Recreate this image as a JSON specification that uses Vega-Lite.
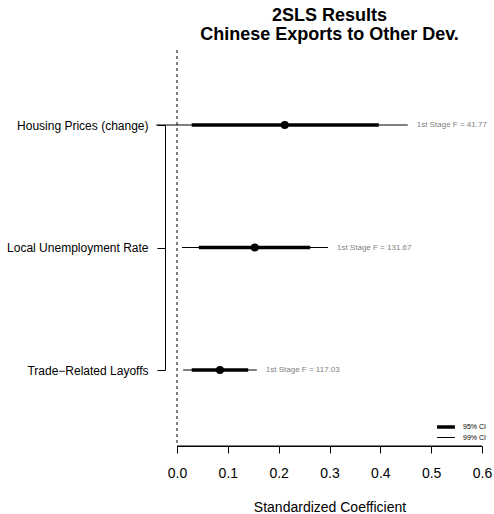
{
  "$schema": "https://vega.github.io/schema/vega-lite/v6.json",
  "width": 329,
  "height": 396,
  "autosize": "none",
  "padding": {"left": 165, "top": 50, "right": 0, "bottom": 68},
  "background": "white",
  "config": {"font": "Liberation Sans", "view": {"stroke": null}},
  "title": {
    "text": ["2SLS Results", "Chinese Exports to Other Dev."],
    "fontSize": 18,
    "fontWeight": "bold",
    "color": "black",
    "lineHeight": 19,
    "offset": 6,
    "anchor": "middle"
  },
  "datasets": {
    "ci": [
      {"name": "Housing Prices (change)", "ci": "99% CI", "lo": -0.041, "hi": 0.454},
      {"name": "Local Unemployment Rate", "ci": "99% CI", "lo": 0.010, "hi": 0.297},
      {"name": "Trade−Related Layoffs", "ci": "99% CI", "lo": 0.012, "hi": 0.157},
      {"name": "Housing Prices (change)", "ci": "95% CI", "lo": 0.029, "hi": 0.397},
      {"name": "Local Unemployment Rate", "ci": "95% CI", "lo": 0.043, "hi": 0.262},
      {"name": "Trade−Related Layoffs", "ci": "95% CI", "lo": 0.029, "hi": 0.140}
    ],
    "est": [
      {"name": "Housing Prices (change)", "coef": 0.212, "hi99": 0.454, "label": "1st Stage F = 41.77"},
      {"name": "Local Unemployment Rate", "coef": 0.153, "hi99": 0.297, "label": "1st Stage F = 131.67"},
      {"name": "Trade−Related Layoffs", "coef": 0.0845, "hi99": 0.157, "label": "1st Stage F = 117.03"}
    ],
    "one": [{}],
    "axisline": [{"v": 0}, {"v": 0.6}]
  },
  "layer": [
    {
      "data": {"name": "one"},
      "mark": {"type": "rule", "strokeDash": [3, 3], "color": "black", "strokeWidth": 1},
      "encoding": {
        "x": {
          "datum": 0,
          "type": "quantitative",
          "scale": {"domain": [0, 0.6], "range": [12, 317], "nice": false, "zero": false},
          "axis": {
            "values": [0, 0.1, 0.2, 0.3, 0.4, 0.5, 0.6],
            "format": ".1f",
            "domain": true,
            "domainColor": "black",
            "domainWidth": 1,
            "zindex": 1,
            "grid": false,
            "tickSize": 7,
            "tickColor": "black",
            "labelFlush": false,
            "labelFontSize": 14,
            "labelColor": "black",
            "labelPadding": 13,
            "title": "Standardized Coefficient",
            "titleFontSize": 14,
            "titleFontWeight": "normal",
            "titleColor": "black",
            "titlePadding": 20
          }
        }
      }
    },
    {
      "data": {"name": "axisline"},
      "mark": {"type": "line", "color": "black", "strokeWidth": 1, "clip": false},
      "encoding": {
        "x": {"field": "v", "type": "quantitative"},
        "y": {"value": "height"}
      }
    },
    {
      "data": {"name": "ci"},
      "mark": {"type": "rule", "color": "black"},
      "encoding": {
        "x": {"field": "lo", "type": "quantitative"},
        "x2": {"field": "hi"},
        "y": {
          "field": "name",
          "type": "nominal",
          "scale": {"type": "point", "padding": 0, "range": [75, 320], "domain": ["Housing Prices (change)", "Local Unemployment Rate", "Trade−Related Layoffs"]},
          "axis": {
            "title": null,
            "domain": true,
            "domainColor": "black",
            "domainWidth": 1,
            "ticks": true,
            "tickSize": 8,
            "tickColor": "black",
            "labelPadding": 9,
            "labelFontSize": 12,
            "labelColor": "black",
            "grid": false
          }
        },
        "strokeWidth": {
          "field": "ci",
          "type": "nominal",
          "scale": {"domain": ["95% CI", "99% CI"], "range": [3.5, 1]},
          "legend": {
            "title": null,
            "orient": "none",
            "legendX": 277,
            "legendY": 373,
            "symbolType": "M-4,0H4",
            "symbolSize": 20,
            "symbolStrokeColor": "black",
            "labelFontSize": 7,
            "labelColor": "black",
            "rowPadding": -2,
            "labelOffset": 13,
            "padding": 0
          }
        }
      }
    },
    {
      "data": {"name": "est"},
      "mark": {"type": "circle", "color": "black", "opacity": 1, "size": 64},
      "encoding": {
        "x": {"field": "coef", "type": "quantitative"},
        "y": {"field": "name", "type": "nominal"}
      }
    },
    {
      "data": {"name": "est"},
      "mark": {"type": "text", "align": "left", "baseline": "middle", "dx": 9, "fontSize": 8, "color": "#7f7f7f"},
      "encoding": {
        "x": {"field": "hi99", "type": "quantitative"},
        "y": {"field": "name", "type": "nominal"},
        "text": {"field": "label"}
      }
    }
  ]
}
